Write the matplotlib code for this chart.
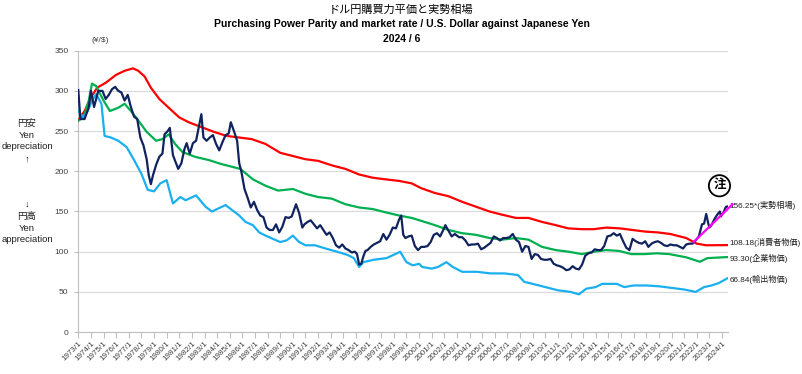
import matplotlib
matplotlib.use("Agg")
import matplotlib.pyplot as plt
from matplotlib import font_manager
import numpy as np

# --- data (month "YYYY/M" -> yen per dollar) ---
market_dates = [
    "1973/1", "1973/3", "1973/7", "1973/11", "1974/1", "1974/4", "1974/8", "1974/12",
    "1975/3", "1975/6", "1975/9", "1975/12", "1976/3", "1976/6", "1976/9", "1976/12",
    "1977/3", "1977/6", "1977/9", "1977/12", "1978/3", "1978/6", "1978/8", "1978/10",
    "1978/12", "1979/3", "1979/6", "1979/9", "1979/11", "1980/2", "1980/4", "1980/7",
    "1980/10", "1980/12", "1981/3", "1981/6", "1981/8", "1981/11", "1982/2", "1982/5",
    "1982/8", "1982/10", "1982/12", "1983/3", "1983/6", "1983/9", "1983/12", "1984/3",
    "1984/6", "1984/9", "1984/12", "1985/2", "1985/5", "1985/8", "1985/10", "1985/12",
    "1986/3", "1986/6", "1986/9", "1986/12", "1987/3", "1987/6", "1987/9", "1987/12",
    "1988/3", "1988/6", "1988/9", "1988/12", "1989/3", "1989/6", "1989/9", "1989/12",
    "1990/4", "1990/7", "1990/10", "1990/12", "1991/3", "1991/6", "1991/9", "1991/12",
    "1992/3", "1992/6", "1992/9", "1992/12", "1993/3", "1993/6", "1993/9", "1993/12",
    "1994/3", "1994/6", "1994/9", "1994/12", "1995/2", "1995/4", "1995/6", "1995/8",
    "1995/10", "1995/12", "1996/3", "1996/6", "1996/9", "1996/12", "1997/3", "1997/6",
    "1997/9", "1997/12", "1998/3", "1998/6", "1998/8", "1998/10", "1998/12", "1999/3",
    "1999/6", "1999/9", "1999/12", "2000/3", "2000/6", "2000/9", "2000/12", "2001/3",
    "2001/6", "2001/9", "2001/12", "2002/2", "2002/5", "2002/8", "2002/11", "2003/3",
    "2003/6", "2003/9", "2003/12", "2004/3", "2004/6", "2004/9", "2004/12", "2005/3",
    "2005/6", "2005/9", "2005/12", "2006/3", "2006/6", "2006/9", "2006/12", "2007/3",
    "2007/6", "2007/9", "2007/12", "2008/3", "2008/6", "2008/9", "2008/12", "2009/3",
    "2009/6", "2009/9", "2009/12", "2010/3", "2010/6", "2010/9", "2010/12", "2011/3",
    "2011/6", "2011/9", "2011/12", "2012/3", "2012/6", "2012/9", "2012/12", "2013/3",
    "2013/6", "2013/9", "2013/12", "2014/3", "2014/6", "2014/9", "2014/12", "2015/3",
    "2015/6", "2015/9", "2015/12", "2016/3", "2016/6", "2016/9", "2016/12", "2017/3",
    "2017/6", "2017/9", "2017/12", "2018/3", "2018/6", "2018/9", "2018/12", "2019/3",
    "2019/6", "2019/9", "2019/12", "2020/3", "2020/6", "2020/9", "2020/12", "2021/3",
    "2021/6", "2021/9", "2021/12", "2022/3", "2022/6", "2022/8", "2022/10", "2022/12",
    "2023/1", "2023/3", "2023/6", "2023/9", "2023/11", "2023/12", "2024/1", "2024/3",
    "2024/4", "2024/5", "2024/6",
]
market_rate = [
    301, 265, 265, 280, 300, 280, 300, 300,
    290, 295, 302, 305, 300, 298, 288, 295,
    280, 268, 265, 242, 232, 215, 195, 184,
    195, 208, 218, 222, 246, 250, 254, 220,
    210, 203, 210, 228, 235, 222, 235, 238,
    258, 271, 242, 238, 242, 245, 234, 226,
    236, 245, 247, 261, 250, 238, 210, 200,
    178, 167, 155, 162, 152, 145, 143, 130,
    127, 127, 134, 124, 131, 143, 142, 144,
    159, 148, 130, 134, 137, 139, 134, 129,
    133, 127, 121, 124, 117, 108, 105, 109,
    104, 102, 99, 100, 97, 84, 85, 94,
    101, 102, 106, 109, 111, 113, 122, 115,
    121, 130, 129, 140, 145, 121, 117, 119,
    120, 107, 102, 106, 106, 107, 112, 121,
    123, 119, 127, 133, 126, 119, 122, 118,
    118, 114, 108, 109, 109, 110, 103, 105,
    108, 111, 119, 117, 114, 117, 117, 118,
    122, 115, 112, 100, 107, 106, 91, 97,
    96, 91, 90, 90, 91, 85, 83, 82,
    80, 77, 78, 82, 79, 78, 84, 95,
    98, 99, 103, 102, 102, 107, 119, 120,
    123, 120, 122, 113, 105, 102, 116, 113,
    111, 110, 113, 106, 110, 112, 113, 111,
    108, 107, 109, 108, 108, 106, 104, 109,
    110, 110, 114, 119, 134, 135, 147, 135,
    130, 133, 141, 147, 150, 144, 146, 150,
    154, 156, 156.25,
]

cpi_dates = [
    "1973/1", "1973/7", "1974/1", "1974/7", "1975/3", "1976/1", "1976/9", "1977/5",
    "1977/10", "1978/4", "1978/10", "1979/6", "1980/3", "1981/1", "1981/10", "1982/10",
    "1983/10", "1984/10", "1985/10", "1986/10", "1987/11", "1989/1", "1990/1", "1991/1",
    "1992/1", "1993/3", "1994/3", "1995/4", "1996/5", "1997/5", "1998/6", "1999/6",
    "2000/3", "2001/4", "2002/5", "2003/6", "2004/7", "2005/8", "2006/8", "2007/9",
    "2008/9", "2009/10", "2010/11", "2011/11", "2012/12", "2013/11", "2014/11", "2015/12",
    "2016/12", "2017/12", "2018/12", "2019/12", "2021/3", "2022/1", "2022/10", "2024/6",
]
cpi_ppp = [
    263, 275, 292, 304, 310, 320, 325, 328,
    325, 318, 304, 290, 279, 267, 261, 255,
    249, 244, 242, 240, 234, 223, 219, 215,
    213, 207, 203, 196, 192, 190, 188, 185,
    179, 173, 169, 162, 156, 150, 146, 142,
    142, 137, 133, 129, 128, 128, 130, 129,
    127, 125, 124, 122, 117, 110, 108, 108.18,
]

cgpi_dates = [
    "1973/1", "1973/6", "1973/11", "1974/2", "1974/6", "1975/1", "1975/7", "1976/3",
    "1976/9", "1977/3", "1977/9", "1978/6", "1979/3", "1979/9", "1980/3", "1980/9",
    "1981/4", "1982/4", "1983/5", "1984/5", "1985/5", "1985/11", "1986/11", "1987/11",
    "1988/11", "1990/1", "1991/1", "1992/1", "1993/2", "1994/3", "1995/4", "1996/5",
    "1997/5", "1998/6", "1999/6", "2000/4", "2001/4", "2002/5", "2003/6", "2004/7",
    "2005/8", "2006/8", "2007/9", "2008/9", "2009/10", "2010/11", "2011/11", "2012/12",
    "2013/11", "2014/11", "2015/11", "2016/11", "2017/11", "2018/11", "2019/11", "2021/3",
    "2022/4", "2022/11", "2024/6",
]
cgpi_ppp = [
    263, 267, 288, 309, 306, 288, 275, 279,
    284, 275, 265, 249, 238, 240, 246, 234,
    224, 218, 214, 209, 205, 203, 190, 182,
    176, 178, 172, 168, 166, 159, 155, 153,
    149, 145, 142, 138, 133, 127, 123, 121,
    117, 115, 117, 115, 106, 102, 100, 97,
    100, 102, 101, 97, 97, 98, 97, 93,
    87.5, 92, 93.30,
]

export_dates = [
    "1973/1", "1973/6", "1973/10", "1974/2", "1974/6", "1974/11", "1975/2", "1975/8",
    "1976/3", "1976/11", "1977/6", "1978/1", "1978/7", "1979/1", "1979/7", "1980/1",
    "1980/7", "1981/2", "1981/7", "1982/5", "1983/2", "1983/8", "1984/9", "1985/3",
    "1985/10", "1986/4", "1986/11", "1987/5", "1987/11", "1988/6", "1989/1", "1989/7",
    "1990/1", "1990/7", "1991/1", "1991/10", "1992/8", "1993/7", "1994/5", "1994/11",
    "1995/4", "1995/8", "1996/6", "1997/6", "1998/4", "1998/7", "1999/1", "1999/7",
    "2000/1", "2000/4", "2001/1", "2001/7", "2002/3", "2002/9", "2003/6", "2004/8",
    "2005/9", "2006/10", "2007/11", "2008/5", "2009/1", "2010/1", "2011/1", "2012/1",
    "2012/9", "2013/4", "2014/1", "2014/7", "2015/9", "2016/4", "2017/1", "2018/1",
    "2019/1", "2020/1", "2021/1", "2021/12", "2022/8", "2023/3", "2023/10", "2024/6",
]
export_ppp = [
    275, 267, 275, 288, 296, 284, 244, 242,
    238, 230, 214, 197, 177, 175, 185, 189,
    160, 168, 164, 170, 156, 150, 158, 152,
    145, 137, 133, 124, 120, 116, 112, 114,
    120, 112, 108, 108, 104, 100, 96, 92,
    81, 87, 90, 92, 98, 100, 87, 83,
    85, 81, 79, 81, 87, 81, 75, 75,
    73, 73, 71, 62.5, 60, 56, 52, 50,
    47, 54, 56, 60, 60, 56, 58, 58,
    57, 55, 53, 50, 56, 58, 61, 66.84,
]

trend_dates = ["2021/10", "2024/11"]
trend_values = [112, 159]

end_labels = ["156.25*(実勢相場)", "108.18(消費者物価)", "93.30(企業物価)", "66.84(輸出物価)"]
end_label_y = [157, 111, 92, 66]

years = list(range(1973, 2025))


def to_year(dates):
    out = []
    for d in dates:
        y, m = d.split("/")
        out.append(int(y) + (int(m) - 1) / 12)
    return np.array(out)


installed = {f.name for f in font_manager.fontManager.ttflist}
narrow = "Liberation Sans Narrow" if "Liberation Sans Narrow" in installed else "Liberation Sans"
plt.rcParams["font.family"] = ["Liberation Sans", "Noto Sans CJK JP"]

fig = plt.figure(figsize=(8.03, 3.74), dpi=100)
ax = fig.add_axes([0.0975, 0.112, 0.809, 0.7525])

ax.plot(to_year(cpi_dates), cpi_ppp, color="#ff0000", lw=1.6, zorder=3)
ax.plot(to_year(cgpi_dates), cgpi_ppp, color="#00b050", lw=1.6, zorder=3)
ax.plot(to_year(export_dates), export_ppp, color="#1ab0f0", lw=1.6, zorder=3)
ax.plot(to_year(market_dates), market_rate, color="#10235e", lw=1.6, zorder=4)
ax.plot(to_year(trend_dates), trend_values, color="#ff00ff", lw=1.6, zorder=5,
        clip_on=False)

ax.set_xlim(1973, 2024.47)
ax.set_ylim(0, 350)
ax.set_yticks(range(0, 351, 50))
ax.set_xticks(years)
ax.set_xticklabels([f"{y}/1" for y in years], rotation=45, ha="right",
                   rotation_mode="anchor", fontsize=5.8, color="#404040")
ax.tick_params(axis="y", labelsize=6, labelcolor="#404040", length=3,
               color="#bfbfbf", pad=4)
ax.tick_params(axis="x", length=4, color="#bfbfbf", pad=2)
ax.grid(axis="y", color="#d9d9d9", lw=0.8)
ax.set_axisbelow(True)
for s in ["top", "right"]:
    ax.spines[s].set_visible(False)
for s in ["left", "bottom"]:
    ax.spines[s].set_color("#bfbfbf")

# labels at the right end of each line
for txt, yv in zip(end_labels, end_label_y):
    ax.text(2024.62, yv, txt, fontsize=5.9, va="center", ha="left",
            clip_on=False, color="#202020")

ax.text(2023.8, 182, "注", fontsize=9, fontweight="bold", ha="center", va="center",
        bbox=dict(boxstyle="circle,pad=0.35", fc="white", ec="black", lw=1.3),
        zorder=6, clip_on=False)

ax.text(0.02, 1.035, "(¥/$)", transform=ax.transAxes, fontsize=6, color="#404040",
        ha="left", va="center")

fig.text(0.0336, 0.623, "円安\nYen\ndepreciation\n↑", ha="center", va="center",
         fontsize=6.8, color="#202020", linespacing=1.4)
fig.text(0.0336, 0.406, "↓\n円高\nYen\nappreciation", ha="center", va="center",
         fontsize=6.8, color="#202020", linespacing=1.4)

fig.text(0.5, 0.975, "ドル円購買力平価と実勢相場", ha="center", va="center",
         fontsize=8, family=[narrow, "Noto Sans CJK JP"])
fig.text(0.5, 0.935, "Purchasing Power Parity and market rate / U.S. Dollar against Japanese Yen",
         ha="center", va="center", fontsize=7.5, fontweight="bold",
         family=[narrow, "Noto Sans CJK JP"])
fig.text(0.5, 0.897, "2024 / 6", ha="center", va="center", fontsize=7.5,
         fontweight="bold", family=[narrow, "Noto Sans CJK JP"])

fig.savefig("out.png", dpi=100)
